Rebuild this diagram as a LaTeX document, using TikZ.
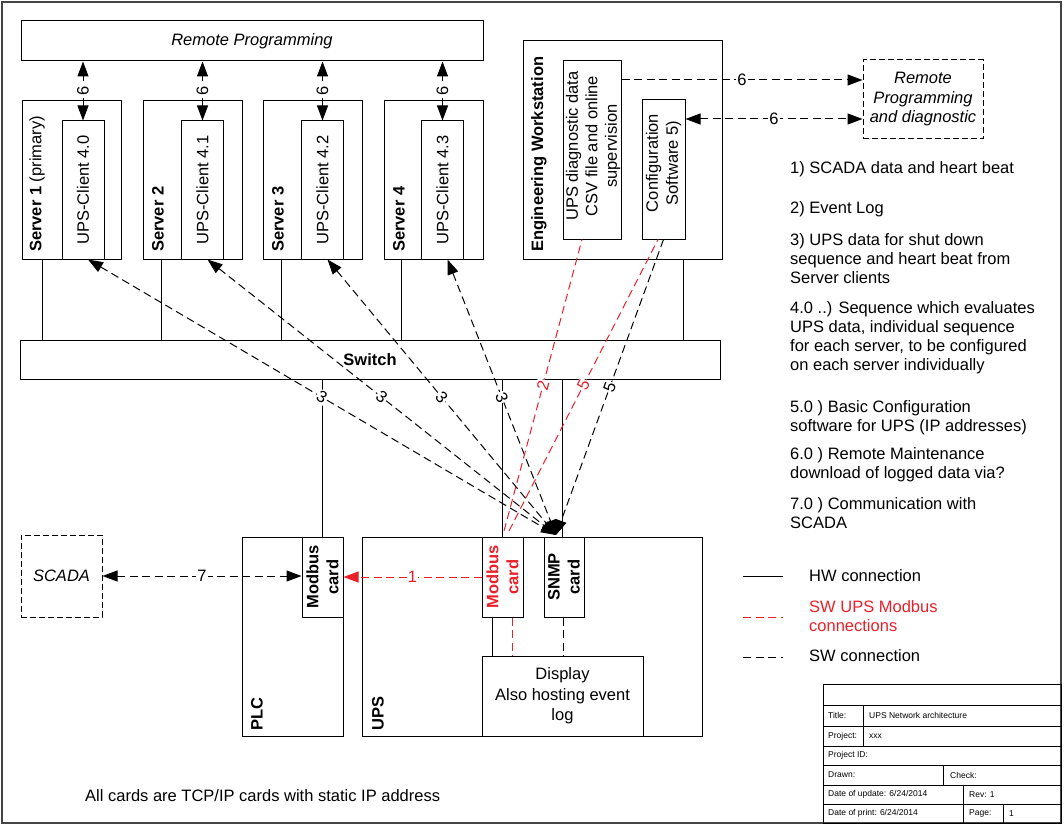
\documentclass[tikz,border=0pt]{standalone}
\usepackage{fontspec}
\setmainfont{Liberation Sans}
\usetikzlibrary{arrows.meta,positioning,calc}
\definecolor{ModRed}{HTML}{E8202A}
\definecolor{FrameGray}{HTML}{444444}

\begin{document}
\begin{tikzpicture}[x=1pt,y=-1pt,>={Triangle[length=15pt,width=11pt]},
                    font=\fontsize{16.5}{19}\selectfont]
\tikzstyle{box}=[draw,line width=1pt,inner sep=0pt]
\tikzstyle{dbox}=[box,dash pattern=on 6pt off 3pt]
\tikzstyle{card}=[box,minimum width=41pt,minimum height=80pt]
\tikzstyle{rtext}=[rotate=90,align=center,inner sep=0pt]
\tikzstyle{vlab}=[rotate=90,anchor=west,inner sep=0pt,font=\fontsize{16.5}{19}\selectfont\bfseries]
\tikzstyle{hw}=[line width=1pt]
\tikzstyle{sw}=[line width=1pt,dash pattern=on 8pt off 4.5pt]
\tikzstyle{swred}=[sw,draw=ModRed]
\tikzstyle{num}=[fill=white,inner sep=1pt,sloped]
\tikzstyle{note}=[anchor=west,align=left,inner sep=0pt]
\tikzstyle{cell}=[anchor=west,inner sep=0pt,font=\fontsize{8.5}{10}\selectfont]
\useasboundingbox (0,0) rectangle (1064,826);
\draw[line width=1.2pt,FrameGray] (2,2) rectangle (1061,823);

% remote programming and servers
\node[box,minimum width=462pt,minimum height=40pt] (rp) at (252,41) {\itshape Remote Programming};
\node[box,minimum width=99pt,minimum height=158pt] (srv1) at (71.5,180) {};
\node[box,minimum width=99pt,minimum height=158pt] (srv2) at (193,180) {};
\node[box,minimum width=99pt,minimum height=158pt] (srv3) at (312.5,180) {};
\node[box,minimum width=99pt,minimum height=158pt] (srv4) at (433.5,180) {};
\node[box,minimum width=42pt,minimum height=138pt] (cl1) at (83,190) {};
\node[box,minimum width=42pt,minimum height=138pt] (cl2) at (202.5,190) {};
\node[box,minimum width=42pt,minimum height=138pt] (cl3) at (322.5,190) {};
\node[box,minimum width=42pt,minimum height=138pt] (cl4) at (442.5,190) {};
\node[rtext] (cl1txt) at (cl1) {UPS-Client 4.0};
\node[rtext] (cl2txt) at (cl2) {UPS-Client 4.1};
\node[rtext] (cl3txt) at (cl3) {UPS-Client 4.2};
\node[rtext] (cl4txt) at (cl4) {UPS-Client 4.3};
\node[vlab] (srv1lab) at (37,252) {Server 1 \mdseries(primary)};
\node[vlab] (srv2lab) at (158,252) {Server 2};
\node[vlab] (srv3lab) at (278,252) {Server 3};
\node[vlab] (srv4lab) at (399,252) {Server 4};
\draw[sw,<->] (cl1.north) -- node[num]{6} (cl1.north |- rp.south);
\draw[sw,<->] (cl2.north) -- node[num]{6} (cl2.north |- rp.south);
\draw[sw,<->] (cl3.north) -- node[num]{6} (cl3.north |- rp.south);
\draw[sw,<->] (cl4.north) -- node[num]{6} (cl4.north |- rp.south);

% engineering workstation
\node[box,minimum width=199pt,minimum height=218pt] (ews) at (622.5,150) {};
\node[vlab] (ewslab) at (539,252) {Engineering Workstation};
\node[box,minimum width=58pt,minimum height=178pt] (diag) at (592,150) {};
\node[rtext,font=\fontsize{16.5}{19.5}\selectfont] (diagtxt) at (593,146) {UPS diagnostic data\\CSV file and online\\supervision};
\node[box,minimum width=43pt,minimum height=139pt] (cfg) at (663.5,169.5) {};
\node[rtext,font=\fontsize{16.5}{20}\selectfont] (cfgtxt) at (663.5,163) {Configuration\\Software 5)};
\node[dbox,minimum width=120pt,minimum height=79pt,align=center,
      font=\fontsize{16.5}{19.5}\selectfont\itshape] (rpd) at (923,99.5) {Remote\\Programming\\and diagnostic};
\coordinate (d6) at ([yshift=70pt]diag.east);
\coordinate (c6) at ([yshift=50.5pt]cfg.east);
\draw[sw,->] (d6) -- node[fill=white,inner sep=1pt]{6} (d6 -| rpd.west);
\draw[sw,<->] (c6) -- node[fill=white,inner sep=1pt]{6} (c6 -| rpd.west);

% switch
\node[box,minimum width=700pt,minimum height=39pt,font=\fontsize{16.5}{19}\selectfont\bfseries] (swt) at (370,359.5) {Switch};
\draw[hw] ([xshift=21pt]srv1.south west) -- ([xshift=21pt]srv1.south west |- swt.north);
\draw[hw] ([xshift=18pt]srv2.south west) -- ([xshift=18pt]srv2.south west |- swt.north);
\draw[hw] ([xshift=19pt]srv3.south west) -- ([xshift=19pt]srv3.south west |- swt.north);
\draw[hw] ([xshift=18pt]srv4.south west) -- ([xshift=18pt]srv4.south west |- swt.north);
\draw[hw] ([xshift=-39pt]ews.south east) -- ([xshift=-39pt]ews.south east |- swt.north);

% scada, plc and ups
\node[dbox,minimum width=81pt,minimum height=82pt,font=\fontsize{16.5}{19}\selectfont\itshape] (scada) at (61.5,576) {SCADA};
\node[box,minimum width=101pt,minimum height=199pt] (plc) at (292.5,636.5) {};
\node[card] (mbp) at (322.5,577) {};
\node[rtext,font=\fontsize{16.5}{20}\selectfont\bfseries] (mbptxt) at (mbp) {Modbus\\card};
\node[vlab] (plclab) at (257,731) {PLC};
\node[box,minimum width=340pt,minimum height=199pt] (ups) at (532,636.5) {};
\node[vlab] (upslab) at (378,731) {UPS};
\node[card] (mbu) at (502.5,577) {};
\node[rtext,text=ModRed,font=\fontsize{16.5}{20}\selectfont\bfseries] (mbutxt) at (mbu) {Modbus\\card};
\node[card,minimum width=40pt] (snmp) at (564,577) {};
\node[rtext,font=\fontsize{16.5}{20}\selectfont\bfseries] (snmptxt) at (snmp) {SNMP\\card};
\node[box,minimum width=161pt,minimum height=80pt,align=center,font=\fontsize{16.5}{20.5}\selectfont] (disp) at (562.5,696) {Display\\Also hosting event\\log};
\draw[hw] (mbp.north) -- (mbp.north |- swt.south);
\draw[hw] (mbu.north) -- (mbu.north |- swt.south);
\draw[hw] ([xshift=-2pt]snmp.north) -- ([xshift=-2pt]snmp.north |- swt.south);
\draw[hw] ([xshift=-10.5pt]mbu.south) -- ([xshift=-10.5pt]mbu.south |- disp.north);
\draw[swred] ([xshift=9.5pt]mbu.south) -- ([xshift=9.5pt]mbu.south |- disp.north);
\draw[sw] ([xshift=-1pt]snmp.south) -- ([xshift=-1pt]snmp.south |- disp.north);
\draw[sw,<->] (scada.east) -- node[fill=white,inner sep=1pt]{7} (scada.east -| mbp.west);
\draw[swred,->] (mbu.west) -- node[fill=white,inner sep=1pt,text=ModRed]{1} (mbu.west -| mbp.east);

% software links through the switch
\coordinate (hub) at (556,535);
\coordinate (redA) at (504,531);
\coordinate (redB) at (509,531);
\draw[sw,<->] ([xshift=5pt]cl1.south) -- node[num]{3} (hub);
\draw[sw,<->] ([xshift=5pt]cl2.south) -- node[num]{3} (hub);
\draw[sw,<->] ([xshift=5pt]cl3.south) -- node[num]{3} (hub);
\draw[sw,<->] ([xshift=5pt]cl4.south) -- node[num]{3} (hub);
\draw[sw,->] (cfg.south) -- node[num]{5} (hub);
\draw[swred] (redA) -- node[num,text=ModRed]{2} ([xshift=-10pt]diag.south);
\draw[swred] (redB) -- node[num,text=ModRed]{5} ([xshift=-5.5pt]cfg.south);

% notes
\node[note] (n1) at (790,169) {1) SCADA data and heart beat};
\node[note] (n2) at (790,209) {2) Event Log};
\node[note] (n3) at (790,258.5) {3) UPS data for shut down\\sequence and heart beat from\\Server clients};
\node[note] (n4) at (790,337.5) {4.0 ..) Sequence which evaluates\\UPS data, individual sequence\\for each server, to be configured\\on each server individually};
\node[note] (n5) at (790,417.5) {5.0 ) Basic Configuration\\software for UPS (IP addresses)};
\node[note] (n6) at (790,464.5) {6.0 ) Remote Maintenance\\download of logged data via?};
\node[note] (n7) at (790,513) {7.0 ) Communication with\\SCADA};
\node[note] (foot) at (85,796) {All cards are TCP/IP cards with static IP address};

% legend
\node[note] (lhw) at (809,576) {HW connection};
\node[note,text=ModRed] (lred) at (809,616) {SW UPS Modbus\\connections};
\node[note] (lsw) at (809,656) {SW connection};
\coordinate (lhwa) at (743,576);
\coordinate (lreda) at (743,617);
\coordinate (lswa) at (743,657);
\draw[hw] (lhwa) -- ++(40,0);
\draw[swred] (lreda) -- ++(40,0);
\draw[sw] (lswa) -- ++(40,0);

% title block
\draw[line width=0.9pt] (823,684) rectangle (1061,823);
\draw[line width=0.9pt] (823,705) -- (1061,705) (823,726) -- (1061,726) (823,746) -- (1061,746)
  (823,765) -- (1061,765) (823,785) -- (1061,785) (823,804) -- (1061,804);
\draw[line width=0.9pt] (863,705) -- (863,746) (943,765) -- (943,785) (963,785) -- (963,823) (1003,804) -- (1003,823);
\node[cell] (tb1) at (828,715.5) {Title:};
\node[cell] (tb2) at (869,715.5) {UPS Network architecture};
\node[cell] (tb3) at (828,736) {Project:};
\node[cell] (tb4) at (869,736) {xxx};
\node[cell] (tb5) at (828,755.5) {Project ID:};
\node[cell] (tb6) at (828,775) {Drawn:};
\node[cell] (tb7) at (950,775) {Check:};
\node[cell] (tb8) at (828,794.5) {Date of update: 6/24/2014};
\node[cell] (tb9) at (969,794.5) {Rev: 1};
\node[cell] (tb10) at (828,813.5) {Date of print: 6/24/2014};
\node[cell] (tb11) at (969,813.5) {Page:};
\node[cell] (tb12) at (1009,813.5) {1};
\end{tikzpicture}
\end{document}
